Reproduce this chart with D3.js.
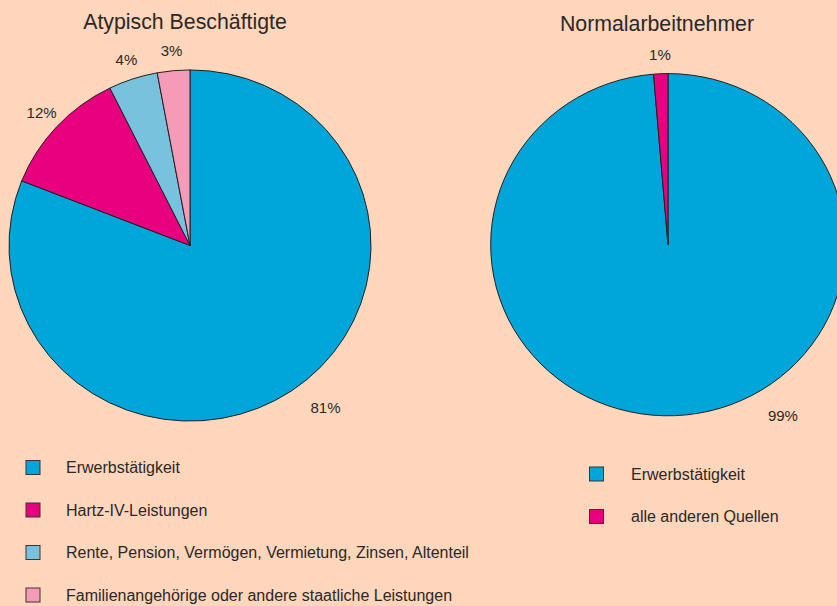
<!DOCTYPE html>
<html>
<head>
<meta charset="utf-8">
<script src="https://cdn.jsdelivr.net/npm/d3@7"></script>
<style>
  html, body { margin: 0; padding: 0; background: #fdd6bb; }
  svg { display: block; }
  text { font-family: "Liberation Sans", Arial, sans-serif; fill: #2b2828; }
</style>
</head>
<body>
<svg id="chart" width="837" height="606"></svg>
<script>
// Data
const leftTitle = "Atypisch Beschäftigte";
const leftCategories = [
    "Erwerbstätigkeit",
    "Hartz-IV-Leistungen",
    "Rente, Pension, Vermögen, Vermietung, Zinsen, Altenteil",
    "Familienangehörige oder andere staatliche Leistungen"
];
const leftValues = [81, 11.7, 4.4, 2.9];
const leftLabels = ["81%", "12%", "4%", "3%"];
const leftColors = ["#00a6d9", "#e8007f", "#78c2de", "#f59bb8"];

const rightTitle = "Normalarbeitnehmer";
const rightCategories = ["Erwerbstätigkeit", "alle anderen Quellen"];
const rightValues = [98.7, 1.3];
const rightLabels = ["99%", "1%"];
const rightColors = ["#00a6d9", "#e8007f"];

const svg = d3.select('#chart');

// pie chart helper (slightly squashed vertically like the original)
function drawPie(opts) {
    const pie = d3.pie().sort(null).value(d => d.value);
    const arcs = pie(opts.values.map((v, i) => ({ value: v, label: opts.labels[i], color: opts.colors[i] })));
    const arc = d3.arc().innerRadius(0).outerRadius(opts.r);

    svg.append('text')
        .attr('x', opts.titleX)
        .attr('y', opts.titleY)
        .attr('text-anchor', 'middle')
        .attr('font-size', 21.3)
        .text(opts.title);

    const g = svg.append('g')
        .attr('transform', `translate(${opts.cx},${opts.cy}) scale(1,${opts.ky})`);

    g.selectAll('path')
        .data(arcs)
        .enter()
        .append('path')
        .attr('d', arc)
        .attr('fill', d => d.data.color)
        .attr('stroke', '#231f20')
        .attr('stroke-width', 1)
        .attr('vector-effect', 'non-scaling-stroke');

    // labels outside the pie
    arcs.forEach(d => {
        const big = (d.endAngle - d.startAngle) > Math.PI;
        const a = big ? opts.bigLabelAngle * Math.PI / 180 : (d.startAngle + d.endAngle) / 2;
        const lr = opts.r * (big ? 1.19 : 1.115);
        svg.append('text')
            .attr('x', opts.cx + lr * Math.sin(a))
            .attr('y', opts.cy - lr * Math.cos(a) * opts.ky)
            .attr('text-anchor', 'middle')
            .attr('dominant-baseline', 'central')
            .attr('font-size', 15)
            .text(d.data.label);
    });
}

function drawLegend(categories, colors, x, y0, step, textX) {
    const g = svg.append('g');
    const rows = g.selectAll('g')
        .data(categories)
        .enter()
        .append('g')
        .attr('transform', (d, i) => `translate(0,${y0 + i * step})`);
    rows.append('rect')
        .attr('x', x)
        .attr('y', -7)
        .attr('width', 14)
        .attr('height', 14)
        .attr('fill', (d, i) => colors[i])
        .attr('stroke', '#3a3536')
        .attr('stroke-width', 1);
    rows.append('text')
        .attr('x', textX)
        .attr('y', 5.8)
        .attr('font-size', 16)
        .text(d => d);
}

drawPie({
    title: leftTitle, titleX: 185, titleY: 29,
    values: leftValues, labels: leftLabels, colors: leftColors,
    cx: 190, cy: 245.5, r: 181, ky: 0.97, bigLabelAngle: 141
});
drawPie({
    title: rightTitle, titleX: 657, titleY: 31,
    values: rightValues, labels: rightLabels, colors: rightColors,
    cx: 668, cy: 244.7, r: 177.3, ky: 0.965, bigLabelAngle: 147
});

drawLegend(leftCategories, leftColors, 26, 467.5, 42.5, 66);
drawLegend(rightCategories, rightColors, 589.5, 474, 42.5, 631);
</script>
</body>
</html>
